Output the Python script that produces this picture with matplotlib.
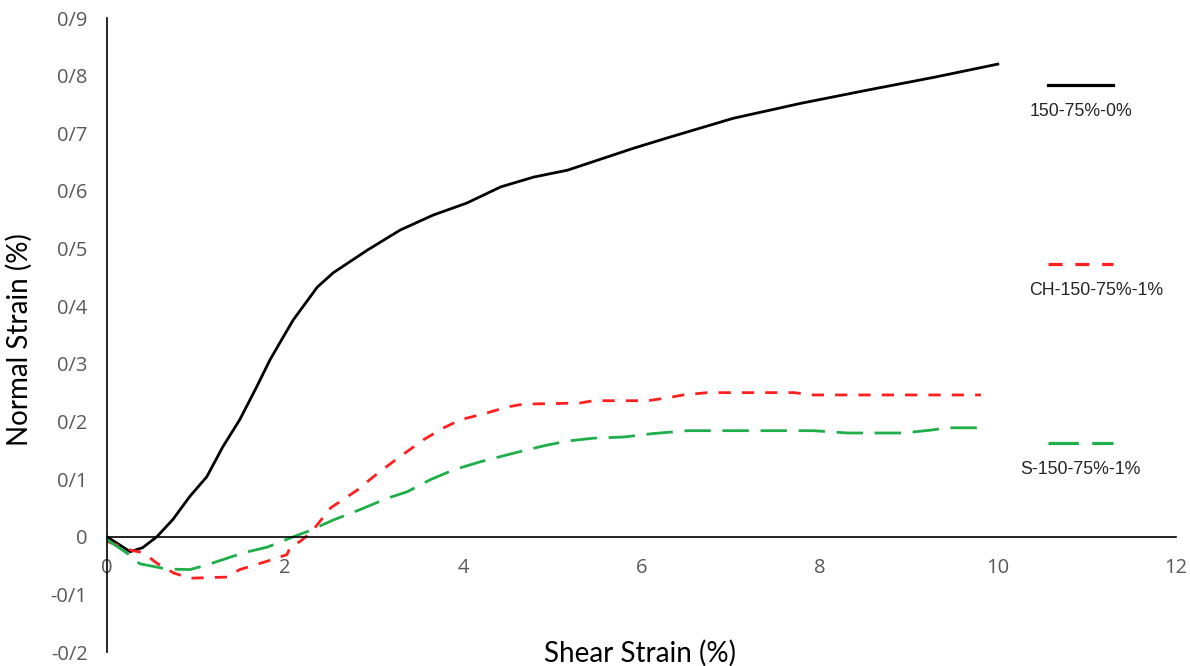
import matplotlib
matplotlib.use("Agg")
import matplotlib.pyplot as plt
from matplotlib.lines import Line2D
from matplotlib.ticker import FuncFormatter

# Shear strain (%) vs normal strain (%) for three specimens
base_x = [0.0, 0.26, 0.40, 0.56, 0.74, 0.93, 1.12, 1.30, 1.49, 1.68, 1.83, 1.98, 2.09,
          2.36, 2.54, 2.92, 3.29, 3.66, 4.04, 4.42, 4.79, 5.17, 5.54, 5.91, 6.29,
          7.03, 7.79, 8.54, 9.28, 10.0]
base_y = [0.0, -0.026, -0.019, 0.0, 0.030, 0.070, 0.104, 0.156, 0.203, 0.260, 0.307,
          0.347, 0.376, 0.433, 0.458, 0.497, 0.532, 0.558, 0.579, 0.607, 0.624,
          0.636, 0.655, 0.674, 0.692, 0.726, 0.752, 0.775, 0.797, 0.820]

ch_x = [0.0, 0.26, 0.41, 0.56, 0.75, 0.93, 1.35, 1.49, 1.87, 2.02, 2.06, 2.17, 2.30,
        2.51, 2.81, 2.99, 3.21, 3.55, 3.78, 3.97, 4.27, 4.49, 4.67, 5.31, 5.46,
        6.07, 6.29, 6.47, 6.74, 7.71, 7.93, 9.81]
ch_y = [-0.008, -0.023, -0.028, -0.046, -0.063, -0.072, -0.070, -0.057, -0.039, -0.031,
        -0.017, -0.008, 0.009, 0.050, 0.081, 0.104, 0.130, 0.168, 0.189, 0.203,
        0.215, 0.225, 0.230, 0.232, 0.236, 0.236, 0.241, 0.246, 0.250, 0.250,
        0.246, 0.246]

s_x = [0.0, 0.22, 0.37, 0.67, 0.93, 1.12, 1.53, 1.80, 2.06, 2.25, 2.54, 2.84, 3.15,
       3.37, 3.63, 3.89, 4.19, 4.49, 4.72, 4.94, 5.17, 5.46, 5.80, 6.13, 6.52,
       7.56, 7.93, 8.31, 8.94, 9.25, 9.43, 9.81]
s_y = [-0.005, -0.028, -0.047, -0.056, -0.057, -0.049, -0.028, -0.018, -0.002, 0.009,
       0.029, 0.047, 0.067, 0.078, 0.099, 0.116, 0.130, 0.142, 0.151, 0.159,
       0.166, 0.171, 0.173, 0.179, 0.184, 0.184, 0.184, 0.180, 0.180, 0.185,
       0.189, 0.189]

series_labels = ["150-75%-0%", "CH-150-75%-1%", "S-150-75%-1%"]
x_ticks = [0, 2, 4, 6, 8, 10, 12]
y_ticks = [-0.2, -0.1, 0, 0.1, 0.2, 0.3, 0.4, 0.5, 0.6, 0.7, 0.8, 0.9]

RED = "#ff1f1f"
GREEN = "#1fae4a"
LW = 2.0
red_dash = (0, (4.4, 4.0))
green_dash = (0, (9.5, 4.2))

fig = plt.figure(figsize=(11.9, 6.66), dpi=100)
ax = fig.add_axes([107 / 1190, 1 - 652 / 666, (1176 - 107) / 1190, (652 - 18) / 666])

ax.plot(base_x, base_y, color="black", lw=LW)
ax.plot(ch_x, ch_y, color=RED, lw=LW, linestyle=red_dash)
ax.plot(s_x, s_y, color=GREEN, lw=LW, linestyle=green_dash)

ax.set_xlim(0, 12)
ax.set_ylim(-0.2, 0.9)
ax.set_xticks(x_ticks)
ax.set_yticks(y_ticks)

def slash_decimal(v, pos):
    s = f"{v:.1f}".rstrip("0").rstrip(".")
    if s in ("-0", ""):
        s = "0"
    return s.replace(".", "/")

ax.yaxis.set_major_formatter(FuncFormatter(slash_decimal))
ax.xaxis.set_major_formatter(FuncFormatter(lambda v, p: f"{v:g}"))

for side in ("top", "right"):
    ax.spines[side].set_visible(False)
ax.spines["bottom"].set_position(("data", 0))
ax.spines["left"].set_position(("data", 0))
for side in ("bottom", "left"):
    ax.spines[side].set_linewidth(1.2)
    ax.spines[side].set_color("black")

ax.tick_params(axis="both", length=0, labelsize=14.5, labelcolor="#595959")
ax.tick_params(axis="x", pad=15)
ax.tick_params(axis="y", pad=14)
for lab in ax.get_xticklabels() + ax.get_yticklabels():
    lab.set_fontfamily("Open Sans")

title_font = dict(family="Lato", size=20, color="black")
fig.text(640 / 1190, 1 - 653 / 666, "Shear Strain (%)", ha="center", va="center", **title_font)
fig.text(19 / 1190, 1 - 340 / 666, "Normal Strain (%)", ha="center", va="center",
         rotation=90, **title_font)

# Legend, stacked down the right-hand side
legend_items = [
    (85, 1081, 112, "black", "-"),
    (264, 1096, 290, RED, red_dash),
    (443, 1080, 469, GREEN, green_dash),
]
for (ly, tx, ty, col, ls), text in zip(legend_items, series_labels):
    fig.add_artist(Line2D([1048 / 1190, 1113 / 1190], [1 - ly / 666, 1 - ly / 666],
                          color=col, lw=2.3, linestyle=ls, transform=fig.transFigure))
    fig.text(tx / 1190, 1 - ty / 666, text, ha="center", va="center",
             family="Liberation Sans", size=12.8, color="#262626")

fig.savefig("out.png", dpi=100)
